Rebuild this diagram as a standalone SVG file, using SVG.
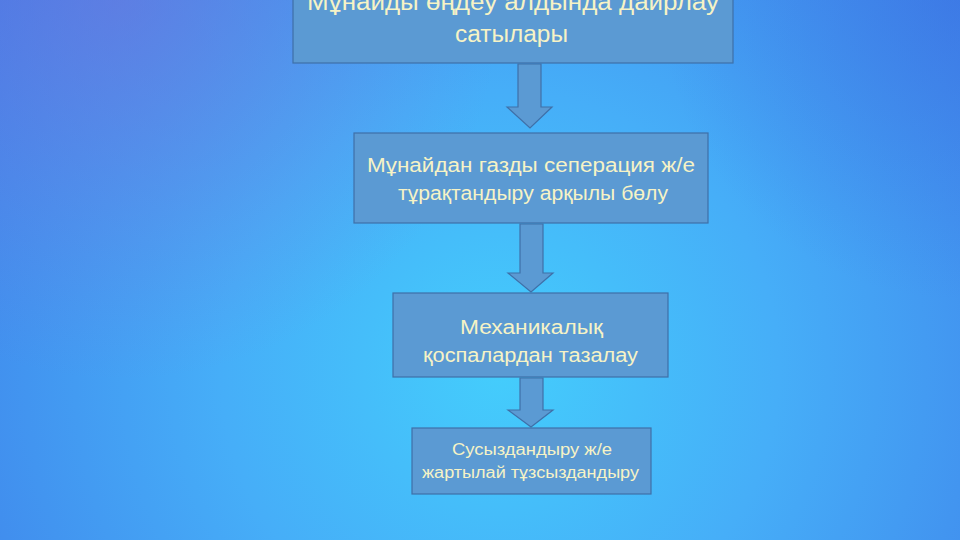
<svg xmlns="http://www.w3.org/2000/svg" width="960" height="540" viewBox="0 0 960 540">
  <defs>
    <radialGradient id="bg" cx="500" cy="370" r="620" gradientUnits="userSpaceOnUse">
      <stop offset="0" stop-color="#44cdfc"/>
      <stop offset="0.45" stop-color="#46aef8"/>
      <stop offset="1" stop-color="#3f82ea"/>
    </radialGradient>
    <radialGradient id="tint" cx="120" cy="0" r="380" gradientUnits="userSpaceOnUse">
      <stop offset="0" stop-color="#7a6fd8" stop-opacity="0.5"/>
      <stop offset="1" stop-color="#7a6fd8" stop-opacity="0"/>
    </radialGradient>
    <radialGradient id="tint2" cx="960" cy="0" r="300" gradientUnits="userSpaceOnUse">
      <stop offset="0" stop-color="#3b6fe0" stop-opacity="0.5"/>
      <stop offset="1" stop-color="#3b6fe0" stop-opacity="0"/>
    </radialGradient>
    <style>
      .box { fill: #5b9ad3; stroke: #3f70a8; stroke-width: 1.2; }
      .arrow { fill: #5b9ad3; stroke: #3f70a8; stroke-width: 1.2; }
      .t { font-family: "Liberation Sans", "DejaVu Sans", sans-serif; fill: #f6f3c6; text-anchor: start; }
    </style>
  </defs>
  <rect x="0" y="0" width="960" height="540" fill="url(#bg)"/>
  <rect x="0" y="0" width="960" height="540" fill="url(#tint)"/>
  <rect x="0" y="0" width="960" height="540" fill="url(#tint2)"/>

  <g id="connectors">
    <path class="arrow" d="M518,64 L541,64 L541,107 L552,107 L530,128 L507,107 L518,107 Z"/>
    <path class="arrow" d="M520,224 L543,224 L543,273 L553,273 L531,292 L508,273 L520,273 Z"/>
    <path class="arrow" d="M520,378 L543,378 L543,410 L553,410 L531,427 L508,410 L520,410 Z"/>
  </g>

  <g id="node1">
    <rect class="box" x="293" y="-20" width="440" height="83"/>
    <text class="t" x="307" y="10" font-size="23" textLength="412" lengthAdjust="spacingAndGlyphs">Мұнайды  өңдеу алдында дайрлау</text>
    <text class="t" x="455" y="42" font-size="23" textLength="113" lengthAdjust="spacingAndGlyphs">сатылары</text>
  </g>

  <g id="node2">
    <rect class="box" x="354" y="133" width="354" height="90"/>
    <text class="t" x="367" y="172" font-size="20" textLength="328" lengthAdjust="spacingAndGlyphs">Мұнайдан газды сеперация ж/е</text>
    <text class="t" x="398" y="200" font-size="20" textLength="270" lengthAdjust="spacingAndGlyphs">тұрақтандыру арқылы бөлу</text>
  </g>

  <g id="node3">
    <rect class="box" x="393" y="293" width="275" height="84"/>
    <text class="t" x="460" y="334" font-size="20" textLength="143" lengthAdjust="spacingAndGlyphs">Механикалық</text>
    <text class="t" x="423" y="362" font-size="20" textLength="215" lengthAdjust="spacingAndGlyphs">қоспалардан тазалау</text>
  </g>

  <g id="node4">
    <rect class="box" x="412" y="428" width="239" height="66"/>
    <text class="t" x="452" y="455" font-size="16" textLength="160" lengthAdjust="spacingAndGlyphs">Сусыздандыру ж/е</text>
    <text class="t" x="422" y="478" font-size="16" textLength="217" lengthAdjust="spacingAndGlyphs">жартылай тұзсыздандыру</text>
  </g>
</svg>
